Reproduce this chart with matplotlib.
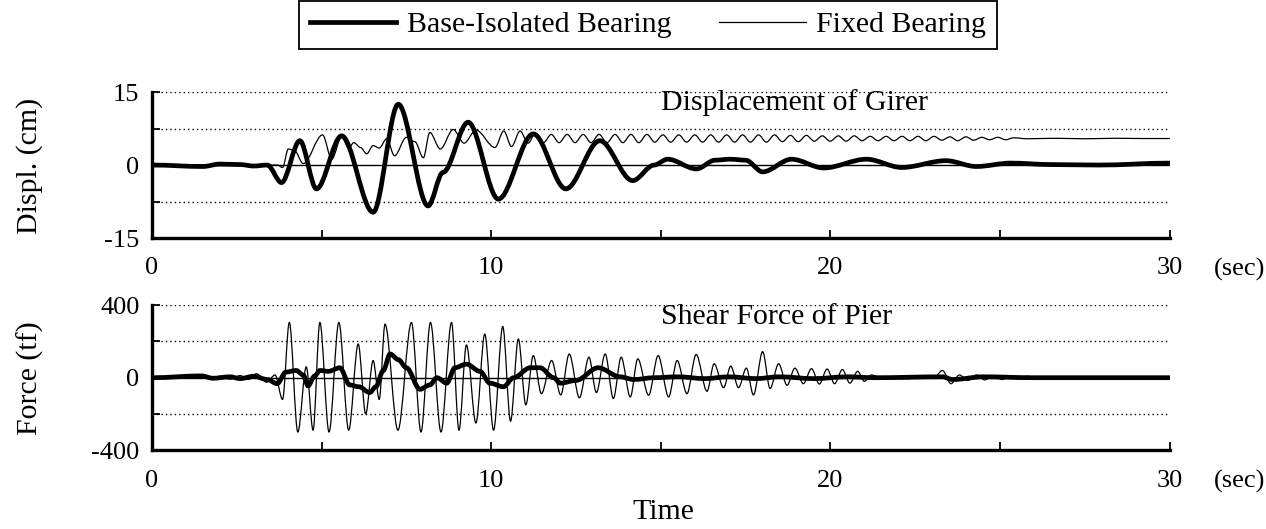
import matplotlib
matplotlib.use('Agg')
import matplotlib.pyplot as plt
from matplotlib.path import Path
from matplotlib.patches import PathPatch
from matplotlib.lines import Line2D

plt.rcParams['font.family'] = ['Liberation Serif', 'DejaVu Serif']
plt.rcParams['axes.unicode_minus'] = False

# Displacement of girder (cm) - extrema
base_disp_t = [0, 1.5, 2.0, 2.6, 3.0, 3.4, 3.82, 4.36, 4.85, 5.59, 6.52, 7.26, 8.14,
               8.58, 9.32, 10.21, 11.24, 12.2, 13.2, 14.17, 14.8, 15.2, 16.05, 16.6,
               17.04, 17.5, 18.0, 18.85, 19.8, 21.06, 22.1, 23.4, 24.3, 25.3, 26.5,
               27.9, 30]
base_disp_v = [0, -0.3, 0.2, 0.1, -0.2, 0, -3.6, 5.0, -4.9, 6.0, -9.7, 12.5, -8.4,
               -1.5, 8.8, -7.0, 6.4, -4.9, 5.0, -3.2, 0, 1.2, -0.8, 1.0,
               1.2, 1.0, -1.4, 1.2, -0.6, 1.2, -0.5, 0.9, -0.3, 0.4, 0.1,
               0, 0.4]

fixed_disp_t = [0, 3.7, 3.85, 4.02, 4.2, 4.46, 5.03, 5.3, 5.59, 5.8, 5.95, 6.15, 6.33,
                6.52, 6.7, 6.92, 7.15, 7.5, 7.75, 8.0, 8.19, 8.5, 8.88, 9.2, 9.55,
                10.11, 10.37, 10.6, 10.85, 11.09, 11.3, 11.54, 11.77, 12.0, 12.24,
                12.47, 12.71, 12.94, 13.18, 13.41, 13.65, 13.88, 14.12, 14.35, 14.59,
                14.82, 15.06, 15.29, 15.53, 15.76, 16.0, 16.23, 16.47, 16.7, 16.94,
                17.17, 17.41, 17.64, 17.88, 18.11, 18.35, 18.58, 18.82, 19.05, 19.29,
                19.52, 19.76, 19.99, 20.23, 20.46, 20.7, 20.93, 21.17, 21.4, 21.64,
                21.87, 22.11, 22.34, 22.58, 22.81, 23.05, 23.28, 23.52, 23.75, 23.99,
                24.22, 24.46, 24.69, 24.93, 25.16, 25.4, 25.8, 26.6, 27.5, 28.4,
                29.2, 30]
fixed_disp_v = [0, 0, -0.5, 3.3, 3.0, 0.3, 6.2, 1.2, 5.8, 3.5, 4.6, 3.6, 2.3,
                4.0, 3.5, 5.4, 1.9, 5.7, 4.8, 1.5, 6.7, 3.3, 7.3, 4.5, 7.2,
                3.6, 7.0, 3.8, 7.0, 4.5, 6.5, 4.6, 6.3, 4.6, 6.3,
                4.6, 6.3, 4.6, 6.3, 4.6, 6.3, 4.6, 6.3, 4.6, 6.3,
                4.7, 6.2, 4.7, 6.2, 4.7, 6.2, 4.7, 6.2, 4.7, 6.2,
                4.7, 6.2, 4.7, 6.2, 4.7, 6.2, 4.8, 6.1, 4.8, 6.1,
                4.9, 6.0, 4.9, 6.0, 4.9, 6.0, 5.0, 5.9, 5.0, 5.9,
                5.0, 5.9, 5.0, 5.9, 5.0, 5.9, 5.1, 5.8, 5.0, 5.8,
                5.1, 5.7, 5.2, 5.7, 5.2, 5.6, 5.4, 5.5, 5.4, 5.5,
                5.45, 5.45]

# Shear force of pier (tf)
base_force_t = [0, 1.46, 1.8, 2.3, 2.6, 3.0, 3.4, 3.69, 3.95, 4.25, 4.46, 4.6, 4.8,
                4.95, 5.2, 5.54, 5.83, 6.1, 6.42, 6.6, 6.82, 7.02, 7.26, 7.5, 7.9,
                8.19, 8.4, 8.69, 8.93, 9.27, 9.67, 9.96, 10.36, 10.66, 11.15, 11.44,
                11.84, 12.04, 12.5, 13.15, 13.8, 14.2, 14.8, 15.5, 16.3, 17.0, 17.8,
                18.5, 19.5, 20.5, 21.3, 23.3, 23.6, 24.5, 26.0, 30]
base_force_v = [0, 10, -3, 5, -5, 8, -10, -33, 31, 40, 15, -45, 10,
                40, 35, 55, -40, -50, -82, -50, 40, 131, 100, 55, -64,
                -40, 0, -30, 55, 75, 35, -30, -50, 0, 55, 55,
                0, -30, -15, 55, 5, -10, 0, 5, -5, 5, -5,
                5, -5, 5, 0, 5, -10, 5, 0, 0]

fixed_force_t = [0, 1.3, 1.46, 1.7, 2.0, 2.3, 2.6, 2.85, 3.08, 3.38, 3.63, 3.85, 4.05,
                 4.3, 4.55, 4.75, 4.95, 5.22, 5.51, 5.8, 6.08, 6.3, 6.52, 6.7, 6.87,
                 7.25, 7.65, 7.93, 8.21, 8.52, 8.83, 9.05, 9.27, 9.55, 9.81, 10.07,
                 10.34, 10.57, 10.8, 11.02, 11.24, 11.48, 11.78, 12.05, 12.3, 12.6,
                 12.88, 13.1, 13.36, 13.6, 13.83, 14.1, 14.32, 14.64, 14.92, 15.23,
                 15.48, 15.77, 16.04, 16.36, 16.57, 16.85, 17.06, 17.29, 17.52, 17.73,
                 18.0, 18.22, 18.47, 18.72, 18.95, 19.2, 19.44, 19.67, 19.9, 20.12,
                 20.35, 20.57, 20.8, 21.0, 21.2, 21.5, 22.3, 22.5, 23.05, 23.3, 23.55,
                 23.8, 24.05, 24.3, 24.55, 24.8, 25.05, 25.3, 25.55, 25.8, 26.05,
                 26.4, 30]
fixed_force_v = [0, 0, 15, -5, 8, -8, 12, -10, 22, -25, 15, -120, 305,
                 -300, 60, -290, 305, -300, 305, -290, 186, -200, 95, -120, 296,
                 -290, 305, -300, 305, -300, 305, -290, 181, -250, 241, -290,
                 283, -240, 214, -150, 122, -88, 95, -95, 131, -111,
                 113, -82, 131, -115, 113, -106, 104, -97, 122, -106,
                 95, -88, 128, -75, 77, -55, 64, -55, 53, -95,
                 144, -60, 77, -42, 53, -33, 50, -35, 48, -33,
                 45, -30, 35, -20, 15, 0, -5, 0, 0, 40, -33,
                 15, -15, 15, -12, 12, -10, 10, -8, 8, -5,
                 0, 0]

TEXT_SIZE = 21.5
TICK_SIZE = 19


def smooth_line(ax, t, v, lw):
    """Draw a curve through the read points with flat tangents (extrema)."""
    verts = [(t[0], v[0])]
    codes = [Path.MOVETO]
    for i in range(len(t) - 1):
        h = t[i + 1] - t[i]
        verts += [(t[i] + h / 3, v[i]), (t[i + 1] - h / 3, v[i + 1]), (t[i + 1], v[i + 1])]
        codes += [Path.CURVE4] * 3
    patch = PathPatch(Path(verts, codes), fill=False, lw=lw, ec='black',
                      joinstyle='round', capstyle='round')
    ax.add_patch(patch)


def style_axes(ax, ylim, yticks, yminor, grid):
    ax.set_xlim(0, 30)
    ax.set_ylim(*ylim)
    for s in ['top', 'right']:
        ax.spines[s].set_visible(False)
    for s in ['left', 'bottom']:
        ax.spines[s].set_linewidth(2.4)
    for g in grid:
        ax.axhline(g, color='black', lw=1.0, linestyle=(0, (1, 2.2)), zorder=1)
    ax.axhline(0, color='black', lw=1.0, zorder=1)
    ax.set_xticks([0, 10, 20, 30])
    ax.set_xticks([5, 15, 25], minor=True)
    ax.set_yticks(yticks)
    ax.set_yticks(yminor, minor=True)
    ax.tick_params(which='both', direction='in', length=6, width=1.3,
                   labelsize=TICK_SIZE)
    ax.tick_params(axis='x', pad=14)
    ax.tick_params(axis='y', pad=9)
    ax.annotate('(sec)', xy=(1.0, 0), xycoords='axes fraction',
                xytext=(32, -14), textcoords='offset points',
                ha='left', va='top', fontsize=TICK_SIZE)


fig = plt.figure(figsize=(12.66, 5.29), dpi=100)

ax1 = fig.add_axes([0.120, 0.550, 0.804, 0.276])
style_axes(ax1, (-15, 15), [-15, 0, 15], [-7.5, 7.5], [15, 7.5, -7.5])
smooth_line(ax1, fixed_disp_t, fixed_disp_v, 0.9)
smooth_line(ax1, base_disp_t, base_disp_v, 3.4)
ax1.text(0.5, 0.93, 'Displacement of Girer', transform=ax1.transAxes,
         ha='left', va='center', fontsize=TEXT_SIZE)

ax2 = fig.add_axes([0.120, 0.149, 0.804, 0.274])
style_axes(ax2, (-400, 400), [-400, 0, 400], [-200, 200], [400, 200, -200])
smooth_line(ax2, fixed_force_t, fixed_force_v, 0.9)
smooth_line(ax2, base_force_t, base_force_v, 3.4)
ax2.text(0.5, 0.917, 'Shear Force of Pier', transform=ax2.transAxes,
         ha='left', va='center', fontsize=TEXT_SIZE)

fig.text(30 / 1266, 1 - 166 / 529, 'Displ. (cm)', rotation=90,
         ha='center', va='center', fontsize=TEXT_SIZE)
fig.text(30 / 1266, 1 - 378 / 529, 'Force (tf)', rotation=90,
         ha='center', va='center', fontsize=TEXT_SIZE)
fig.text(663 / 1266, 1 - 512 / 529, 'Time', ha='center', va='center',
         fontsize=TEXT_SIZE)

handles = [Line2D([], [], color='black', lw=3.4),
           Line2D([], [], color='black', lw=0.9)]
leg = fig.legend(handles, ['Base-Isolated Bearing', 'Fixed Bearing'],
                 loc='center', bbox_to_anchor=(648 / 1266, 1 - 25 / 529), ncol=2,
                 fancybox=False, edgecolor='black', framealpha=1,
                 fontsize=TEXT_SIZE, handlelength=2.9, handletextpad=0.35,
                 columnspacing=1.6, borderpad=0.35)
leg.get_frame().set_linewidth(1.3)

fig.savefig('out.png', dpi=100)
